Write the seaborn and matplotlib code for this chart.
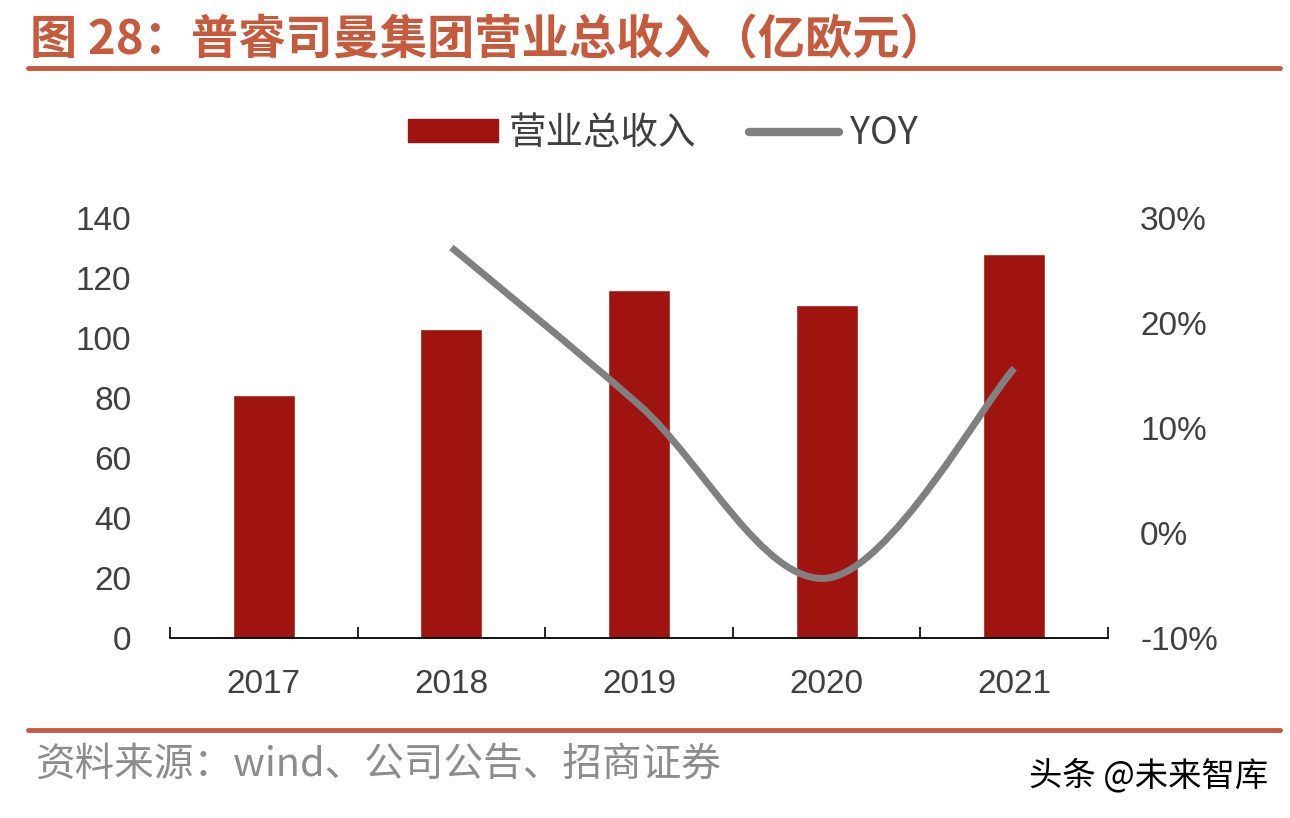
import numpy as np
import pandas as pd
import matplotlib
matplotlib.use("Agg")
import matplotlib.pyplot as plt
import seaborn as sns
from matplotlib.path import Path
from matplotlib.patches import PathPatch, Patch
from matplotlib.lines import Line2D
from matplotlib.ticker import FuncFormatter

# data
years = ["2017", "2018", "2019", "2020", "2021"]
revenue = [81, 103, 116, 111, 128]          # 亿欧元
yoy = [None, 27.2, 12.2, -4.3, 15.7]         # %

title = "图 28：普睿司曼集团营业总收入（亿欧元）"
source = "资料来源：wind、公司公告、招商证券"
watermark = "头条 @未来智库"

bar_color = "#A01410"
line_color = "#808080"
accent = "#C55A3C"

sns.set_theme(style="white")
plt.rcParams['font.family'] = ['Noto Sans CJK SC', 'DejaVu Sans']

df = pd.DataFrame({"year": years, "revenue": revenue})

fig = plt.figure(figsize=(12.9, 8.18), dpi=100)
ax = fig.add_axes([0.1318, 0.22, 0.7272, 0.5134])

sns.barplot(data=df, x="year", y="revenue", color=bar_color, width=0.33,
            saturation=1, ax=ax)
ax.set_ylim(0, 140)
ax.set_yticks(range(0, 141, 20))
ax.set_xlim(-0.5, len(years) - 0.5)
ax.set_xlabel("")
ax.set_ylabel("")
for s in ["top", "left", "right"]:
    ax.spines[s].set_visible(False)
ax.spines["bottom"].set_color("black")
ax.spines["bottom"].set_linewidth(1.3)
ax.set_xticks(np.arange(-0.5, len(years)), minor=True)
ax.tick_params(axis="x", which="minor", direction="in", length=8, width=1.2, color="black", bottom=True)
ax.tick_params(axis="x", which="major", length=0, pad=22)
ax.tick_params(axis="y", length=0, pad=28)
for lab in ax.get_xticklabels() + ax.get_yticklabels():
    lab.set_fontfamily("Liberation Sans")
    lab.set_fontsize(24)
    lab.set_color("#404040")

# YOY on the right axis, smoothed like the original
ax2 = ax.twinx()
ax2.set_ylim(-10, 30)
ax2.set_yticks([-10, 0, 10, 20, 30])
ax2.yaxis.set_major_formatter(FuncFormatter(lambda v, p: f"{v:.0f}%"))
ax2.tick_params(axis="y", length=0, pad=23)
for s in ["top", "left", "right", "bottom"]:
    ax2.spines[s].set_visible(False)
for lab in ax2.get_yticklabels():
    lab.set_fontfamily("Liberation Sans")
    lab.set_fontsize(24)
    lab.set_color("#404040")

pts = np.array([[i, v] for i, v in enumerate(yoy) if v is not None], dtype=float)
verts = [pts[0]]
codes = [Path.MOVETO]
n = len(pts)
for i in range(n - 1):
    p0 = pts[max(i - 1, 0)]
    p1 = pts[i]
    p2 = pts[i + 1]
    p3 = pts[min(i + 2, n - 1)]
    verts += [p1 + (p2 - p0) / 6, p2 - (p3 - p1) / 6, p2]
    codes += [Path.CURVE4] * 3
ax2.add_patch(PathPatch(Path(verts, codes), facecolor="none", edgecolor=line_color,
                        lw=5, capstyle="butt", joinstyle="round"))

# legend above the plot
handles = [Patch(facecolor=bar_color, edgecolor=bar_color),
           Line2D([0], [0], color=line_color, lw=6, solid_capstyle="round")]
fig.legend(handles, ["营业总收入", "YOY"], loc="center", bbox_to_anchor=(0.514, 0.837),
           ncol=2, frameon=False, fontsize=27, handlelength=2.4, handleheight=0.55,
           columnspacing=1.4, handletextpad=0.3, labelcolor="#404040")

# title, rules and footer
fig.text(0.023, 0.951, title, fontsize=34, fontweight="bold", color=accent, va="center")
fig.add_artist(Line2D([0.022, 0.992], [0.917, 0.917], color=accent, lw=3.5))
fig.add_artist(Line2D([0.022, 0.992], [0.107, 0.107], color=accent, lw=3.5))
fig.text(0.027, 0.065, source, fontsize=28.5, color="#8C8C8C", va="center")
fig.text(0.798, 0.052, watermark, fontsize=24, color="black", va="center")

fig.savefig("out.png", dpi=100, facecolor="white")
